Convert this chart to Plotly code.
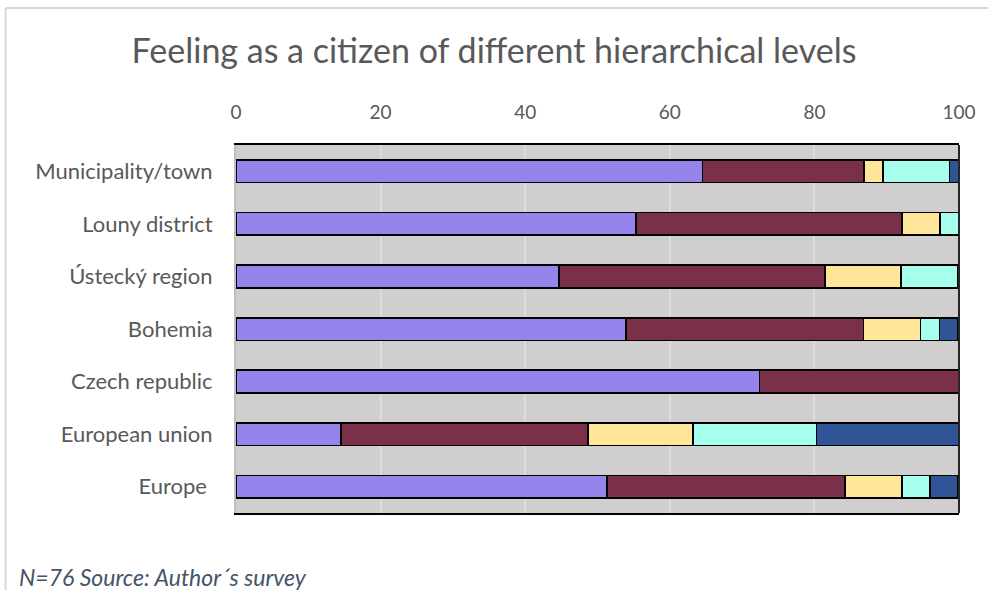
import plotly.graph_objects as go

categories = ["Municipality/town", "Louny district", "Ústecký region", "Bohemia",
              "Czech republic", "European union", "Europe\u00a0"]
series_names = ["Series 1", "Series 2", "Series 3", "Series 4", "Series 5"]
s1 = [64.5, 55.3, 44.7, 53.9, 72.4, 14.5, 51.3]
s2 = [22.4, 36.8, 36.8, 32.9, 27.6, 34.2, 32.9]
s3 = [2.6, 5.3, 10.5, 7.9, None, 14.5, 7.9]
s4 = [9.2, 2.6, 7.9, 2.6, None, 17.1, 3.9]
s5 = [1.3, None, None, 2.6, None, 19.7, 3.9]
colors = ["#9683EC", "#7A3049", "#FFE699", "#A5FFEC", "#2F5597"]
tick_vals = [0, 20, 40, 60, 80, 100]

FONT = "Lato"
fig = go.Figure()
for name, vals, col in zip(series_names, [s1, s2, s3, s4, s5], colors):
    fig.add_trace(go.Bar(
        y=categories, x=vals, name=name, orientation="h",
        marker=dict(color=col, line=dict(color="#000000", width=1.6)),
        width=0.43,
    ))

L, R, T, B = 236, 24, 145, 77
W, H = 988, 590
pw, ph = W - L - R, H - T - B

def px_x(p):
    return (p - L) / pw

def px_y(p):
    return (H - B - p) / ph

fig.update_layout(
    width=W, height=H, barmode="stack", showlegend=False,
    margin=dict(l=L, r=R, t=T, b=B),
    paper_bgcolor="white", plot_bgcolor="#D0CECE",
    title=dict(text="Feeling as a citizen of different hierarchical levels",
               x=0.5, xanchor="center", xref="container", y=1 - 51 / H, yanchor="middle",
               font=dict(family=FONT, size=34, color="#595959")),
    xaxis=dict(range=[0, 100], side="top", tickvals=tick_vals,
               showgrid=True, gridcolor="#DEDDDD", gridwidth=2,
               showline=True, linecolor="#000000", linewidth=2, mirror=True,
               ticks="", ticklabelstandoff=16,
               tickfont=dict(family=FONT, size=19, color="#595959"), zeroline=False),
    yaxis=dict(autorange="reversed", showline=True, linecolor="#BFBFBF", linewidth=2,
               ticks="", ticklabelstandoff=17,
               tickfont=dict(family=FONT, size=22, color="#595959")),
    bargap=0.57,
)
# right edge of plot area (dark)
fig.add_shape(type="line", xref="paper", yref="paper", x0=1, x1=1, y0=0, y1=1,
              line=dict(color="#262626", width=2))
# outer chart frame (top and left, light gray)
fig.add_shape(type="line", xref="paper", yref="paper", x0=px_x(4), x1=px_x(1000),
              y0=px_y(8), y1=px_y(8), line=dict(color="#D9D9D9", width=2))
fig.add_shape(type="line", xref="paper", yref="paper", x0=px_x(4), x1=px_x(4),
              y0=px_y(8), y1=px_y(600), line=dict(color="#D9D9D9", width=2))
fig.add_annotation(text="<i>N=76 Source: Author´s survey</i>", xref="paper", yref="paper",
                   x=px_x(15), y=px_y(577), xanchor="left", yanchor="middle", showarrow=False,
                   font=dict(family=FONT, size=23, color="#44546A"))
fig.write_html("out.html")
